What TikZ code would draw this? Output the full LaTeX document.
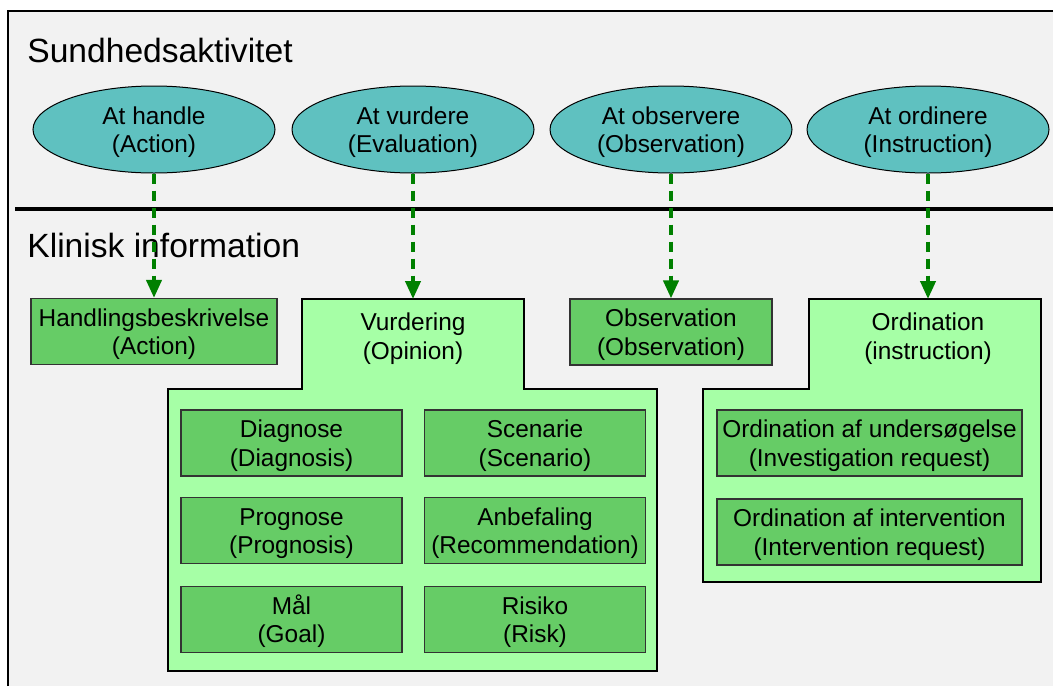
\documentclass[tikz,border=0pt]{standalone}
\usepackage{fontspec}
\setmainfont{Liberation Sans}
\usepackage{color}
\usepackage{tikz}
\usetikzlibrary{shapes.geometric,arrows.meta}

\definecolor{bggray}{RGB}{242,242,242}
\definecolor{actteal}{RGB}{95,193,192}
\definecolor{boxgreen}{RGB}{102,204,102}
\definecolor{paleboxgreen}{RGB}{166,255,166}
\definecolor{linkgreen}{RGB}{0,128,0}

\begin{document}
\begin{tikzpicture}[x=0.5pt, y=-0.5pt,
  txt/.style={font=\fontsize{12.2}{14.3}\selectfont, align=center, inner sep=0pt, text height=26pt},
  activity/.style={txt, ellipse, draw=black, line width=0.5pt, fill=actteal,
    minimum width=121pt, minimum height=43.5pt},
  infobox/.style={txt, draw=black!80, line width=0.6pt, fill=boxgreen, minimum height=33pt},
  link/.style={linkgreen, line width=2pt, dash pattern=on 5pt off 3.5pt,
    -{Triangle[length=9pt,width=7.5pt]}}]
\useasboundingbox (0,0) rectangle (1053,686);
\fill [bggray] (8,11) rectangle (1053,686);
\draw [black, line width=0.8pt] (8,686) -- (8,11) -- (1053,11);
\draw [black, line width=2pt] (15,209) -- (1053,209);

\node (sundhed) [anchor=base west, inner sep=0pt, font=\fontsize{16.8}{19}\selectfont] at (27,62) {Sundhedsaktivitet};
\node (klinisk) [anchor=base west, inner sep=0pt, font=\fontsize{16.8}{19}\selectfont] at (27,257) {Klinisk information};

\node (handle) [activity] at (154,129.5) {At handle\\(Action)};
\node (vurdere) [activity] at (413,129.5) {At vurdere\\(Evaluation)};
\node (observere) [activity] at (671,129.5) {At observere\\(Observation)};
\node (ordinere) [activity] at (928,129.5) {At ordinere\\(Instruction)};

\node (handling) [infobox, minimum width=123pt] at (154,331.5) {Handlingsbeskrivelse\\(Action)};
\node (observation) [infobox, minimum width=101pt] at (671,332) {Observation\\(Observation)};

%\node [below] at (413,680) {vurdering};
\draw [black, line width=0.6pt, fill=paleboxgreen] (302,299) -- (524,299) -- (524,389) -- (657,389)
  -- (657,671) -- (168,671) -- (168,389) -- (302,389) -- cycle;
\coordinate (vurdtop) at (413,299);
\node (vurdering) [txt] at (413,336) {Vurdering\\(Opinion)};
\node (diagnose) [infobox, minimum width=110.5pt] at (291.5,443) {Diagnose\\(Diagnosis)};
\node (scenarie) [infobox, minimum width=110.5pt] at (535,443) {Scenarie\\(Scenario)};
\node (prognose) [infobox, minimum width=110.5pt] at (291.5,530.5) {Prognose\\(Prognosis)};
\node (anbefaling) [infobox, minimum width=110.5pt] at (535,530.5) {Anbefaling\\(Recommendation)};
\node (maal) [infobox, minimum width=110.5pt] at (291.5,619.5) {Mål\\(Goal)};
\node (risiko) [infobox, minimum width=110.5pt] at (535,619.5) {Risiko\\(Risk)};

\draw [black, line width=0.6pt, fill=paleboxgreen] (809,299) -- (1041,299) -- (1041,582)
  -- (703,582) -- (703,389) -- (809,389) -- cycle;
\coordinate (ordtop) at (928,299);
\node (ordination) [txt] at (928,336) {Ordination\\(instruction)};
\node (undersoeg) [infobox, minimum width=152.5pt] at (869.5,443) {Ordination af undersøgelse\\(Investigation request)};
\node (intervention) [infobox, minimum width=152.5pt] at (869.5,532) {Ordination af intervention\\(Intervention request)};

\draw [link] (handle.south) -- (handling.north);
\draw [link] (vurdere.south) -- (vurdtop);
\draw [link] (observere.south) -- (observation.north);
\draw [link] (ordinere.south) -- (ordtop);

\end{tikzpicture}
\end{document}
